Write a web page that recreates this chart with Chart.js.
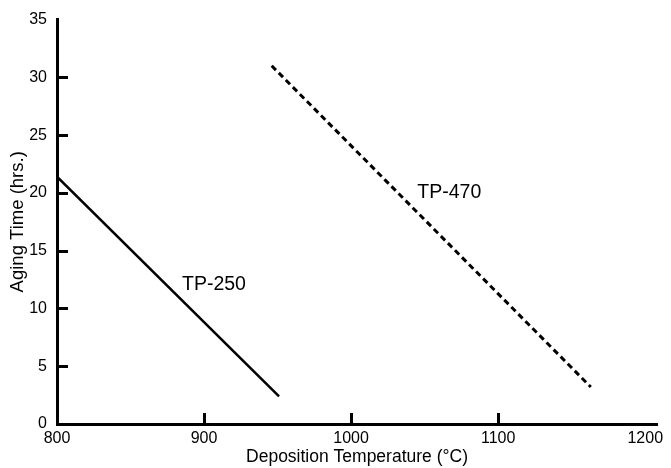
<!DOCTYPE html>
<html>
<head>
<meta charset="utf-8">
<script src="https://cdn.jsdelivr.net/npm/chart.js@4/dist/chart.umd.min.js"></script>
<style>
  html, body { margin: 0; padding: 0; background: #fff; }
  #wrap { width: 671px; height: 468px; }
</style>
</head>
<body>
<div id="wrap"><canvas id="chart" width="671" height="468"></canvas></div>
<script>
// values
const tp250Temp = [800, 951];
const tp250Hours = [21.4, 2.4];
const tp470Temp = [946, 1163];
const tp470Hours = [31.0, 3.2];

const xTicks = [800, 900, 1000, 1100, 1200];
const yTicks = [0, 5, 10, 15, 20, 25, 30, 35];

const seriesNames = ["TP-250", "TP-470"];
const labelTemp = [885, 1045];
const labelHours = [12.1, 20.0];

const FONT = "'Liberation Sans', Arial, Helvetica, sans-serif";

// inward tick marks + series labels
const extras = {
  id: "extras",
  afterDraw(chart) {
    const ctx = chart.ctx;
    const x = chart.scales.x;
    const y = chart.scales.y;
    ctx.save();
    ctx.strokeStyle = "#000";
    ctx.lineWidth = 3;
    ctx.beginPath();
    for (let v of yTicks.slice(1, -1)) {
      let py = Math.round(y.getPixelForValue(v)) + 0.5;
      ctx.moveTo(x.left, py);
      ctx.lineTo(x.left + 11, py);
    }
    for (let v of xTicks.slice(1, -1)) {
      let px = Math.round(x.getPixelForValue(v)) + 0.5;
      ctx.moveTo(px, y.bottom);
      ctx.lineTo(px, y.bottom - 11);
    }
    ctx.stroke();

    ctx.fillStyle = "#000";
    ctx.font = "19.5px " + FONT;
    ctx.textAlign = "left";
    ctx.textBaseline = "middle";
    seriesNames.forEach((name, i) => {
      ctx.fillText(name, x.getPixelForValue(labelTemp[i]), y.getPixelForValue(labelHours[i]));
    });
    ctx.restore();
  },
};

new Chart(document.getElementById("chart"), {
  type: "scatter",
  data: {
    datasets: [
      {
        label: seriesNames[0],
        data: tp250Temp.map((t, i) => ({ x: t, y: tp250Hours[i] })),
        showLine: true,
        borderColor: "#000",
        borderWidth: 2.5,
        pointRadius: 0,
      },
      {
        label: seriesNames[1],
        data: tp470Temp.map((t, i) => ({ x: t, y: tp470Hours[i] })),
        showLine: true,
        borderColor: "#000",
        borderWidth: 3,
        borderDash: [6, 4],
        pointRadius: 0,
      },
    ],
  },
  options: {
    responsive: false,
    animation: false,
    layout: { padding: { top: 15, right: 14, left: 0, bottom: 0 } },
    plugins: {
      legend: { display: false },
      tooltip: { enabled: false },
    },
    scales: {
      x: {
        type: "linear",
        min: 800,
        max: 1208,
        afterBuildTicks: (scale) => {
          scale.ticks = xTicks.map((v) => ({ value: v }));
        },
        afterFit: (scale) => {
          scale.height = 44;
        },
        border: { display: true, color: "#000", width: 3 },
        grid: { display: false, drawTicks: false },
        ticks: {
          color: "#000",
          padding: 5,
          maxRotation: 0,
          font: { family: FONT, size: 16 },
          callback: (v) => String(v),
        },
        title: {
          display: true,
          text: "Deposition Temperature (°C)",
          color: "#000",
          padding: { top: 0, bottom: 0 },
          font: { family: FONT, size: 17.5 },
        },
      },
      y: {
        type: "linear",
        min: 0,
        max: 35,
        afterBuildTicks: (scale) => {
          scale.ticks = yTicks.map((v) => ({ value: v }));
        },
        afterFit: (scale) => {
          scale.width = 57;
        },
        border: { display: true, color: "#000", width: 3 },
        grid: { display: false, drawTicks: false },
        ticks: {
          color: "#000",
          padding: 10,
          font: { family: FONT, size: 16 },
          callback: (v) => String(v),
        },
        title: {
          display: true,
          text: "Aging Time (hrs.)",
          color: "#000",
          padding: { top: 7, bottom: 0 },
          font: { family: FONT, size: 18.5 },
        },
      },
    },
  },
  plugins: [extras],
});
</script>
</body>
</html>
